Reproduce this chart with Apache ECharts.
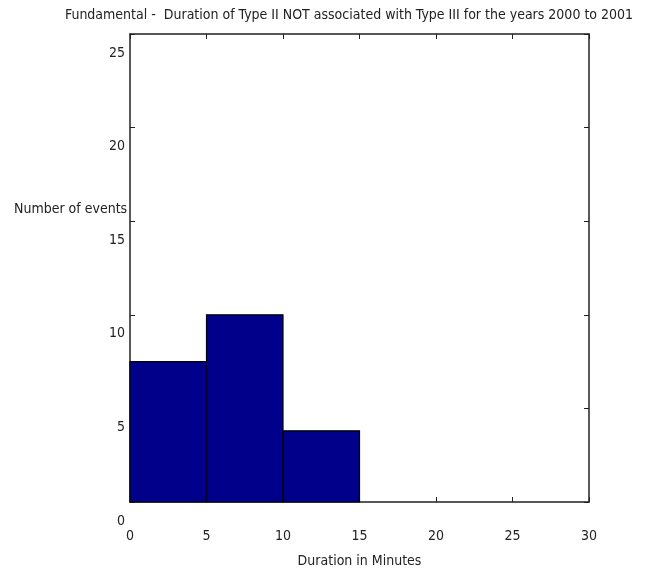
<!DOCTYPE html>
<html><head><meta charset="utf-8">
<script src="https://cdn.jsdelivr.net/npm/echarts@6/dist/echarts.min.js"></script>
<style>html,body{margin:0;padding:0;background:#fff}#c{width:663px;height:571px}</style>
</head><body><div id="c"></div>
<script>
const titleText = 'Fundamental -  Duration of Type II NOT associated with Type III for the years 2000 to 2001';
const xAxisName = 'Duration in Minutes';
const yAxisName = 'Number of events';
const binStarts = [0, 5, 10, 15, 20, 25];
const binEnds = [5, 10, 15, 20, 25, 30];
const counts = [7.5, 10, 3.8, 0, 0, 0];
const xTicks = [0, 5, 10, 15, 20, 25, 30];
const yTicks = [0, 5, 10, 15, 20, 25];

const FONT = '"DejaVu Sans Condensed", "Liberation Sans", Arial, sans-serif';
const data = binStarts.map((s, i) => [s, binEnds[i], counts[i]]);
const chart = echarts.init(document.getElementById('c'));
const axisLine = {show: true, onZero: false, lineStyle: {color: '#222', width: 1.5}};
const tick = {show: true, inside: true, length: 5, lineStyle: {color: '#222'}};
chart.setOption({
  animation: false,
  title: {text: titleText, left: 344, top: 3, textAlign: 'center',
    textStyle: {fontFamily: FONT, fontSize: 14, fontWeight: 'normal', color: '#222'}},
  grid: {left: 130, right: 74, top: 34, bottom: 69, containLabel: false, outerBoundsMode: 'none'},
  graphic: [{type: 'text', left: 14, top: 202,
    style: {text: yAxisName, font: '14px ' + FONT, fill: '#222'}}],
  xAxis: [
    {type: 'value', min: 0, max: 30, interval: 5, position: 'bottom',
     name: xAxisName, nameLocation: 'middle', nameGap: 52,
     nameTextStyle: {fontFamily: FONT, fontSize: 14, color: '#222'},
     axisLine: axisLine, axisTick: tick, splitLine: {show: false},
     axisLabel: {margin: 27, fontFamily: FONT, fontSize: 14, color: '#222'}},
    {type: 'value', min: 0, max: 30, interval: 5, position: 'top',
     axisLine: axisLine, axisTick: tick, splitLine: {show: false}, axisLabel: {show: false}}
  ],
  yAxis: [
    {type: 'value', min: 0, max: 25, interval: 5, position: 'left',
     axisLine: axisLine, axisTick: tick, splitLine: {show: false},
     axisLabel: {margin: 5, fontFamily: FONT, fontSize: 14, color: '#222',
       verticalAlign: 'top', lineHeight: 38}},
    {type: 'value', min: 0, max: 25, interval: 5, position: 'right',
     axisLine: axisLine, axisTick: tick, splitLine: {show: false}, axisLabel: {show: false}}
  ],
  series: [{
    type: 'custom', xAxisIndex: 0, yAxisIndex: 0, data: data,
    encode: {x: [0, 1], y: 2},
    renderItem: function (params, api) {
      const v = api.value(2);
      if (!v) return null;
      const p0 = api.coord([api.value(0), 0]);
      const p1 = api.coord([api.value(1), v]);
      return {type: 'rect',
        shape: {x: p0[0], y: p1[1], width: p1[0] - p0[0], height: p0[1] - p1[1]},
        style: {fill: '#00008a', stroke: '#000', lineWidth: 1.2}};
    }
  }]
});
</script></body></html>
